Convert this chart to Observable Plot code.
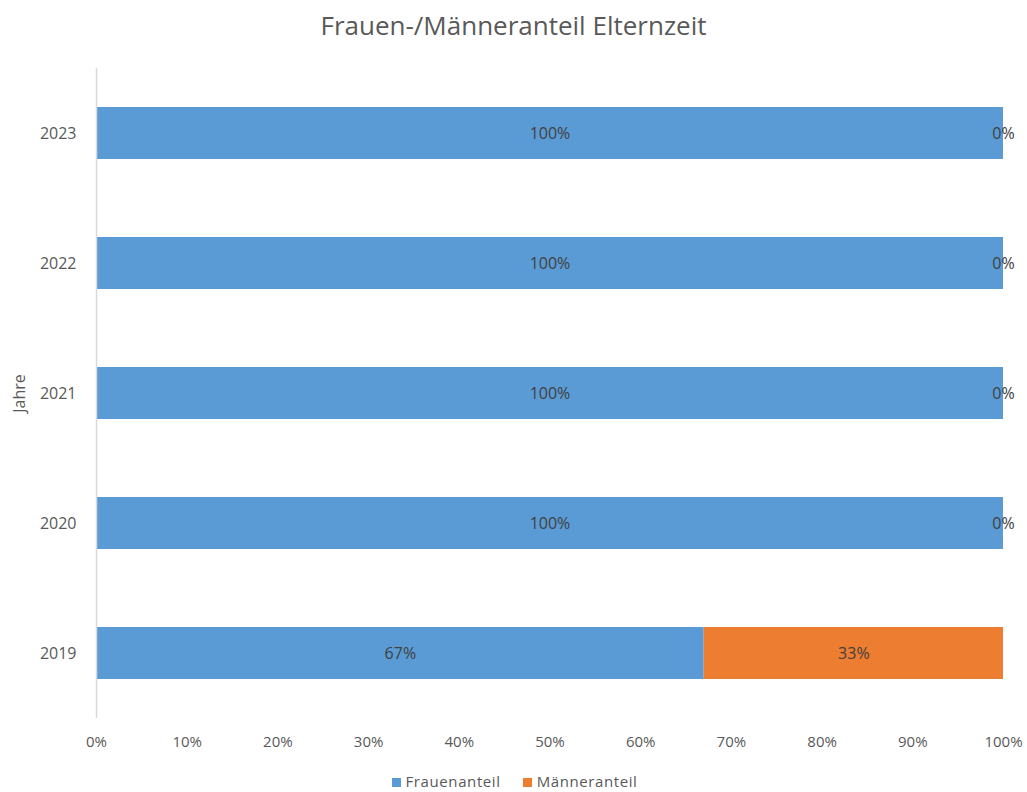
<!DOCTYPE html>
<html>
<head>
<meta charset="utf-8">
<script src="https://cdn.jsdelivr.net/npm/d3@7"></script>
<script src="https://cdn.jsdelivr.net/npm/@observablehq/plot@0.6"></script>
<style>
  html, body { margin: 0; padding: 0; background: #fff; }
  body { width: 1027px; height: 792px; overflow: hidden; font-family: "Open Sans", sans-serif; }
  #title { height: 50px; line-height: 50px; text-align: center; font-size: 26px; color: #595959; }
  #legend { height: 52px; display: flex; justify-content: center; align-items: center; font-size: 15px; letter-spacing: 0.6px; color: #595959; padding-left: 2px; }
  .item { display: flex; align-items: center; margin: 0 11px; }
  .sw { width: 9px; height: 9px; margin-right: 5px; margin-top: 3px; }
</style>
</head>
<body>
<div id="title">Frauen-/Männeranteil Elternzeit</div>
<div id="chart"></div>
<div id="legend"></div>
<script>
const years = ["2019", "2020", "2021", "2022", "2023"];
const seriesNames = ["Frauenanteil", "Männeranteil"];
const frauenanteil = [0.67, 1, 1, 1, 1];
const maenneranteil = [0.33, 0, 0, 0, 0];
const xTicks = [0, 0.1, 0.2, 0.3, 0.4, 0.5, 0.6, 0.7, 0.8, 0.9, 1];
const colors = ["#5B9BD5", "#ED7D31"];

const data = [];
years.forEach((y, i) => {
  data.push({year: y, series: seriesNames[0], value: frauenanteil[i]});
  data.push({year: y, series: seriesNames[1], value: maenneranteil[i]});
});

const fmt = d3.format(".0%");

const chart = Plot.plot({
  width: 1027,
  height: 705,
  marginLeft: 96,
  marginRight: 24,
  marginTop: 18,
  marginBottom: 37,
  style: {fontFamily: "Open Sans, sans-serif", fontSize: "16px", color: "#595959", background: "#fff"},
  x: {domain: [0, 1]},
  y: {domain: years.slice().reverse(), paddingInner: 0.6, paddingOuter: 0.3},
  color: {domain: seriesNames, range: colors},
  marks: [
    Plot.barX(data, Plot.stackX({x: "value", y: "year", z: "series", fill: "series", order: seriesNames})),
    Plot.ruleX([0], {stroke: "#d9d9d9", strokeWidth: 1.5}),
    Plot.axisX({ticks: xTicks, tickFormat: fmt, tickSize: 0, tickPadding: 18, label: null, fontSize: 15}),
    Plot.axisY({tickSize: 0, tickPadding: 20, fontSize: 16, label: "Jahre", labelAnchor: "center", labelArrow: "none", labelOffset: 83}),
    Plot.text(data, Plot.stackX({x: "value", y: "year", z: "series", order: seriesNames,
      text: d => fmt(d.value), fill: "#404040", fontSize: 16}))
  ]
});
document.getElementById("chart").appendChild(chart);

const legend = document.getElementById("legend");
seriesNames.forEach((s, i) => {
  const it = document.createElement("div");
  it.className = "item";
  const sw = document.createElement("div");
  sw.className = "sw";
  sw.style.background = colors[i];
  const t = document.createElement("span");
  t.textContent = s;
  it.appendChild(sw);
  it.appendChild(t);
  legend.appendChild(it);
});
</script>
</body>
</html>
